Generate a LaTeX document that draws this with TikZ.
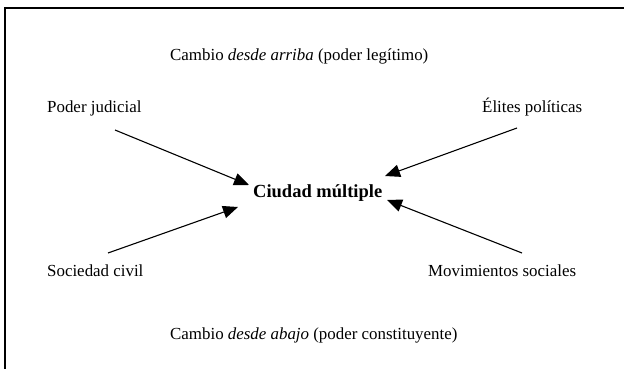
\documentclass[tikz,border=0pt]{standalone}
\usepackage{fontspec}
\setmainfont{Liberation Serif}
\usetikzlibrary{arrows.meta}
\tikzset{
  lbl/.style={anchor=base west, inner sep=0pt, font=\fontsize{16.9}{20}\selectfont},
  center/.style={anchor=base west, inner sep=0pt, font=\fontsize{18.5}{22}\selectfont\bfseries},
  arr/.style={line width=1.1pt, -{Triangle[length=15pt,width=12.5pt]}},
  frame/.style={line width=1.5pt}
}
\begin{document}
\begin{tikzpicture}[x=1pt,y=-1pt]
\useasboundingbox (0,0) rectangle (624,369);
\coordinate (fr1) at (5,369);
\coordinate (fr2) at (5,8);
\coordinate (fr3) at (624,8);
\draw[frame] (fr1) -- (fr2) -- (fr3);
\node[lbl] (top) at (170,61) {Cambio \textit{desde arriba} (poder legítimo)};
\node[lbl] (pj) at (47,112) {Poder judicial};
\node[lbl] (ep) at (482,112) {Élites políticas};
\node[center] (cm) at (253,197) {Ciudad múltiple};
\node[lbl] (sc) at (47,276) {Sociedad civil};
\node[lbl] (ms) at (428,276) {Movimientos sociales};
\node[lbl] (bot) at (170,339) {Cambio \textit{desde abajo} (poder constituyente)};
\coordinate (a1s) at (115,130); \coordinate (a1e) at (249,185);
\coordinate (a2s) at (517,128); \coordinate (a2e) at (385,176);
\coordinate (a3s) at (108,253); \coordinate (a3e) at (238,207);
\coordinate (a4s) at (522,253); \coordinate (a4e) at (387,200);
\draw[arr] (a1s) -- (a1e);
\draw[arr] (a2s) -- (a2e);
\draw[arr] (a3s) -- (a3e);
\draw[arr] (a4s) -- (a4e);
\end{tikzpicture}
\end{document}
